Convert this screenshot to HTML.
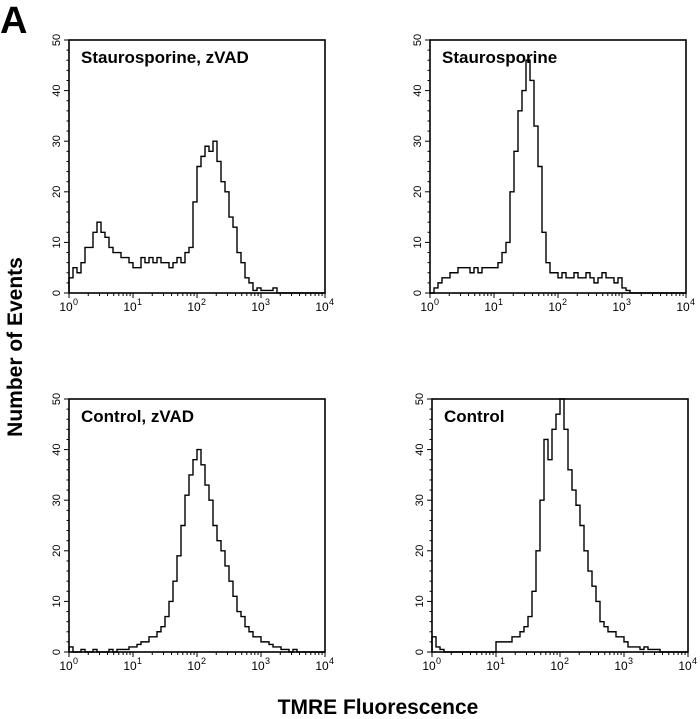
<!DOCTYPE html>
<html><head><meta charset="utf-8"><style>
body{margin:0;background:#fff}
svg{display:block;font-family:"Liberation Sans",Arial,sans-serif}
</style></head><body>
<svg id="fig" width="700" height="719" viewBox="0 0 700 719">
<text x="0" y="33" font-size="38" font-weight="bold">A</text>
<text transform="translate(22,347) rotate(-90)" text-anchor="middle" font-size="21" font-weight="bold">Number of Events</text>
<text x="378" y="714" text-anchor="middle" font-size="21" font-weight="bold">TMRE Fluorescence</text>
</svg>
<script>
const titles = ["Staurosporine, zVAD","Staurosporine","Control, zVAD","Control"];
const yTicks = [0,10,20,30,40,50];
const xDecades = [0,1,2,3,4];
const binsPerDecade = 16;
const stsZvad = [3,5,4,6,9,9,12,14,12,11,9,8,8,7,7,6, 5,5,7,6,7,6,7,6,6,5,6,7,6,8,9,18, 25,27,29,28,30,26,22,20,15,13,8,6,3,2,0.5,1, 0.5,0.5,0.5,1,0,0,0,0,0,0,0,0,0,0,0,0];
const sts = [0,1,2,3,3,4,4,5,5,5,4,5,4,5,5,5, 5,6,8,10,20,28,36,40,46,42,33,25,12,6,4,4, 3,4,3,3,4,3,3,4,3,2,3,4,3,3,2,3, 1,0.5,0,0,0,0,0,0,0,0,0,0,0,0,0,0];
const ctlZvad = [1,0,0,0.5,0,0,0.5,0,0,0,0.5,0,0.5,0.5,0.5,1, 1,1.5,2,2,3,3,4,5,7,10,14,19,25,31,35,38, 40,37,33,30,25,22,20,17,14,11,8,7,5,4,3,3, 2,2,1.5,1,1,0.5,0.5,0,0.5,0,0,0,0,0,0,0];
const ctl = [3,1,0.5,0,0,0,0,0,0,0,0,0,0,0,0,0, 2,2,2,2,3,3,4,5,7,12,20,30,42,38,44,47, 50,44,36,32,29,25,20,16,13,10,6,5,4,4,3,3, 2,1,1,1,0.5,1,0.5,0.5,0.5,0,0,0,0,0,0,0];
const series = [stsZvad, sts, ctlZvad, ctl];
const names = ["staurosporine-zvad","staurosporine","control-zvad","control"];
const panels = [[69,40],[430,40],[69,399],[432,399]];
const W=256,H=253,NS="http://www.w3.org/2000/svg";
const svg=document.getElementById('fig');
function mk(t,a,p){const e=document.createElementNS(NS,t);for(const k in a)e.setAttribute(k,a[k]);(p||svg).appendChild(e);return e;}
panels.forEach((pp,i)=>{
  const [L,T]=pp;
  const g=mk('g',{});
  
  
  const xs=d=>L+d/4*W, ys=v=>T+H-v/50*H;
  const box=mk('rect',{x:L,y:T,width:W,height:H,fill:'none',stroke:'#000','stroke-width':1.6},g);
  
  
  for(let v=0;v<=50;v+=2){const maj=v%10===0;mk('line',{x1:L-(maj?5:2.5),x2:L,y1:ys(v),y2:ys(v),stroke:'#000','stroke-width':1},g);}
  yTicks.forEach(v=>{const t=mk('text',{transform:`translate(${L-9},${ys(v)}) rotate(-90)`,'text-anchor':'middle','font-size':11},g);t.textContent=v;
    
    });
  for(let d=0;d<4;d++)for(let m=1;m<=10;m++){const x=xs(d+Math.log10(m));const maj=m===1||m===10;mk('line',{x1:x,x2:x,y1:T+H,y2:T+H+(maj?5:3),stroke:'#000','stroke-width':1},g);}
  xDecades.forEach(d=>{const t=mk('text',{x:xs(d)-3,y:T+H+18,'text-anchor':'middle','font-size':12},g);t.textContent='10';
    
    
    const s=mk('text',{x:xs(d)+4,y:T+H+12,'font-size':9},g);s.textContent=d;});
  const vals=series[i];let p='M'+xs(0)+','+ys(0);
  vals.forEach((v,k)=>{const x0=xs(k/binsPerDecade),x1=xs((k+1)/binsPerDecade);p+=` L${x0},${ys(v)} L${x1},${ys(v)}`;});
  p+=` L${xs(4)},${ys(0)}`;
  const path=mk('path',{d:p,fill:'none',stroke:'#000','stroke-width':1.4},g);
  
  
  const tt=mk('text',{x:L+12,y:T+23,'font-size':17,'font-weight':'bold'},g);tt.textContent=titles[i];
  
  
});
</script>
</body></html>
